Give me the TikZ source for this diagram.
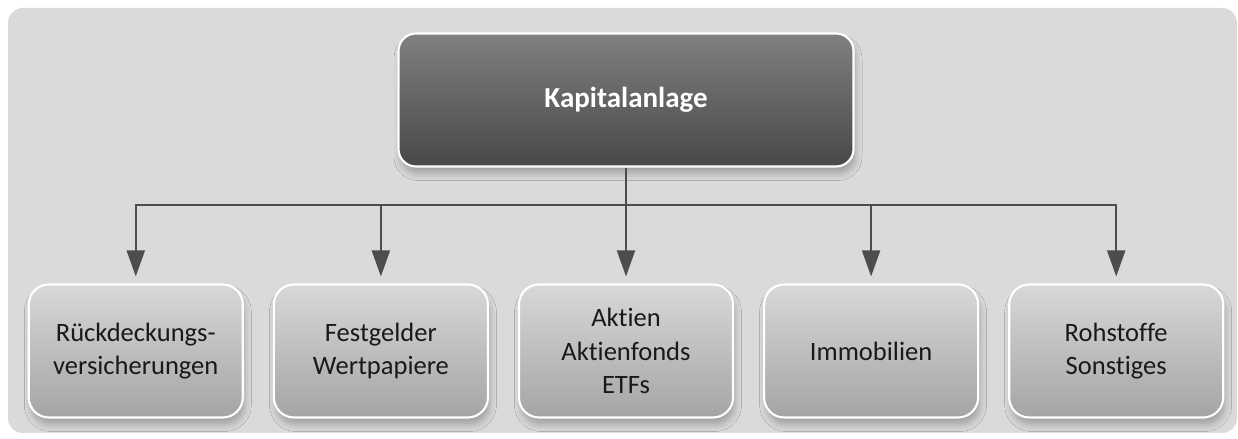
\documentclass[tikz,border=0pt]{standalone}
\usepackage{fontspec}
\setmainfont{Carlito}[Ligatures=NoCommon]
\usepackage{xcolor}
\usetikzlibrary{arrows.meta,positioning,shadows.blur}

\definecolor{hintergrund}{HTML}{DADADA}
\definecolor{kopfhell}{HTML}{9C9C9C}
\definecolor{kopfdunkel}{HTML}{4B4B4B}
\definecolor{zweighell}{HTML}{D9D9D9}
\definecolor{zweigdunkel}{HTML}{979797}
\definecolor{pfeil}{HTML}{4D4D4D}

\pgfdeclareverticalshading{kopfshade}{100bp}{color(0bp)=(kopfdunkel); color(28bp)=(kopfdunkel); color(100bp)=(kopfhell)}
\pgfdeclareverticalshading{zweigshade}{100bp}{color(0bp)=(zweigdunkel); color(12bp)=(zweigdunkel); color(76bp)=(zweighell); color(100bp)=(zweighell)}

\begin{document}
\begin{tikzpicture}[>={Triangle[width=3.6mm,length=5.2mm]},
                node distance=0.58cm,
                thick,
                kopf/.style = {draw=white, line width=1.2pt, rounded corners=0.35cm,
                    shading=kopfshade, minimum width=9.1cm, minimum height=2.66cm,
                    text=white, font=\fontsize{16.5}{19}\selectfont\bfseries,
                    blur shadow={shadow xshift=0.4mm, shadow yshift=-1.5mm, shadow opacity=25, shadow blur radius=1.3mm}},
                zweig/.style = {draw=white, line width=1.2pt, rounded corners=0.4cm,
                    shading=zweigshade, minimum width=4.28cm, minimum height=2.66cm,
                    align=center, text=black!90, font=\fontsize{15.1}{19}\selectfont,
                    blur shadow={shadow xshift=0.4mm, shadow yshift=-1.5mm, shadow opacity=25, shadow blur radius=1.3mm}},
                linie/.style = {draw=pfeil, line width=1.2pt}]
            \useasboundingbox (0,0) rectangle (24.76,8.78);
            \fill[hintergrund, rounded corners=0.3cm] (0.16,0.12) rectangle (24.74,8.62);

            % Nodes
            \node[kopf] (K) at (12.52,6.78) {Kapitalanlage};
            \node[zweig] (B3) at (12.52,1.76) {Aktien\\Aktienfonds\\ETFs};
            \node[zweig] (B2) [left=of B3] {Festgelder\\Wertpapiere};
            \node[zweig] (B1) [left=of B2] {Rückdeckungs-\\versicherungen};
            \node[zweig] (B4) [right=of B3] {Immobilien};
            \node[zweig] (B5) [right=of B4] {Rohstoffe\\Sonstiges};
            \coordinate (bus) at (12.52,4.68);

            %Edges
            \draw[linie] (K) -- (bus);
            \draw[linie,->,shorten >=1.4mm] (bus) -| (B1);
            \draw[linie,->,shorten >=1.4mm] (bus) -| (B2);
            \draw[linie,->,shorten >=1.4mm] (bus) -- (B3);
            \draw[linie,->,shorten >=1.4mm] (bus) -| (B4);
            \draw[linie,->,shorten >=1.4mm] (bus) -| (B5);
        \end{tikzpicture}
\end{document}
